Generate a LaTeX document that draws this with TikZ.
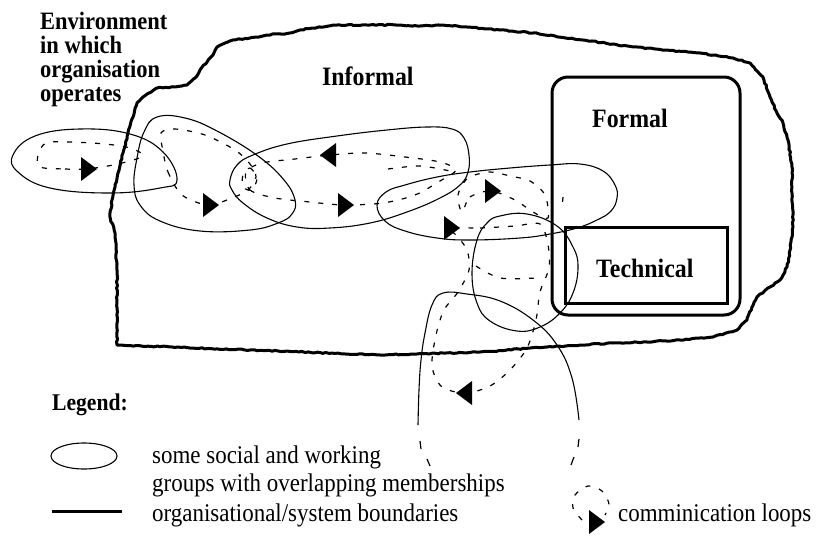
\documentclass[tikz,border=0pt]{standalone}
\usepackage{fontspec}
\setmainfont{Liberation Serif}[FakeStretch=0.9]
\usetikzlibrary{decorations.pathmorphing}
\tikzset{
  tri/.pic={\fill (-6,-12) -- (10,0) -- (-6,12) -- cycle;},
  title/.style={font=\fontsize{26.5}{22}\selectfont\bfseries, inner sep=0pt, anchor=base west},
  envtxt/.style={font=\fontsize{25}{22}\selectfont\bfseries, inner sep=0pt, anchor=base west},
  legtitle/.style={font=\fontsize{24}{24}\selectfont\bfseries, inner sep=0pt, anchor=base west},
  legtxt/.style={font=\fontsize{25.5}{28}\selectfont, inner sep=0pt, anchor=base west},
  bound/.style={line width=3pt, line join=round, line cap=round},
  grp/.style={line width=1.1pt},
  comm/.style={line width=1.2pt, dash pattern=on 5pt off 9pt}
}
\begin{document}
\begin{tikzpicture}[x=1pt,y=-1pt]
\useasboundingbox (0,0) rectangle (831,544);

% informal boundary (blob)
\draw[bound, decorate, decoration={random steps,segment length=3pt,amplitude=0.6pt}]
  plot[sharp cycle] coordinates {
  (117,345) (117,300) (117,270) (115,233) (110,217) (112,200) (115,187) (118,173)
  (123,153) (128,133) (133,117) (137,103) (143,97) (157,88) (175,87) (187,85)
  (195,78) (200,70) (207,62) (213,55) (217,47) (225,43) (233,40) (250,38)
  (267,35) (290,33) (300,30) (313,28) (333,25) (367,25) (400,25) (420,26)
  (443,25) (467,27) (500,30) (533,33) (583,40) (633,47) (667,50) (700,53)
  (733,58) (750,63) (763,77) (770,97) (777,113) (783,123) (788,140) (792,167)
  (792,193) (793,227) (790,250) (787,267) (780,280) (770,287) (757,297) (752,307)
  (747,320) (737,330) (713,337) (680,340) (647,342) (613,343) (580,345) (547,347)
  (480,352) (380,355) (250,350)};

% formal and technical boxes
\node[draw, line width=3pt, rounded corners=16pt, minimum width=188pt, minimum height=238pt, inner sep=0pt] (formalbox) at (646,196) {};
\node[draw, line width=3pt, minimum width=162pt, minimum height=76pt, inner sep=0pt] (techbox) at (646,265) {};

% groups
\draw[grp] plot[smooth cycle, tension=0.7] coordinates {(13,155) (35,136) (80,129) (130,134) (163,152) (177,180) (160,188) (110,193) (50,188) (18,172)};
\draw[grp] plot[smooth cycle, tension=0.7] coordinates {(157,117) (185,118) (217,131) (258,156) (284,180) (295,200) (292,214) (278,223) (250,230) (200,231) (160,221) (140,205) (134,185) (137,158) (144,132)};
\draw[grp] plot[smooth cycle, tension=0.7] coordinates {(230,180) (237,165) (253,155) (287,144) (337,136) (387,130) (427,127) (452,129) (464,138) (469,155) (468,172) (460,185) (440,198) (407,212) (370,223) (330,228) (297,227) (267,218) (243,203) (232,190)};
\draw[grp] plot[smooth cycle, tension=0.7] coordinates {(377,205) (386,192) (405,185) (437,177) (470,172) (510,168) (550,165) (580,164) (603,171) (615,185) (617,198) (611,211) (597,220) (577,228) (550,234) (520,238) (470,240) (437,238) (405,231) (385,221)};
\draw[grp] plot[smooth cycle, tension=0.7] coordinates {(472,273) (477,240) (487,223) (500,216) (527,214) (557,226) (573,247) (578,267) (573,293) (560,313) (540,327) (517,331) (490,321) (477,303)};
\draw[grp] plot[smooth, tension=0.7] coordinates {(418,425) (419,390) (421,360) (425,333) (432,305) (443,293) (467,294) (500,301) (533,320) (557,345) (572,378) (579,420)};

% communication loops
\draw[comm] plot[smooth cycle] coordinates {(40,167) (65,169) (87,169) (118,164) (143,156) (130,148) (105,144) (70,142) (46,143) (38,155)};
\draw[comm] plot[smooth cycle] coordinates {(163,151) (168,172) (182,195) (208,205) (232,198) (248,190) (256,177) (250,164) (235,150) (205,135) (175,129) (161,133)};
\draw[comm] plot[smooth cycle] coordinates {(246,172) (250,190) (275,198) (310,202) (344,205) (383,203) (415,195) (440,181) (456,170) (440,162) (405,157) (365,153) (330,155) (295,159) (262,163)};
\draw[comm] plot[smooth cycle] coordinates {(243,175) (250,168) (257,178) (252,190) (243,187)};
\draw[comm] plot[smooth] coordinates {(388,169) (420,166) (450,171)};
\draw[comm] plot[smooth cycle] coordinates {(462,212) (470,197) (491,191) (515,200) (533,212) (548,218) (545,195) (530,181) (510,176) (490,172) (468,178) (458,195)};
\draw[comm] plot[smooth cycle] coordinates {(450,228) (480,228) (515,226) (540,224) (548,245) (549,268) (540,292) (536,320) (527,348) (510,370) (490,386) (466,393) (442,387) (432,366) (436,335) (444,310) (458,292) (469,270) (467,250) (457,236)};
\draw[comm] plot[smooth] coordinates {(476,266) (500,278) (536,278)};
\draw[comm] (563,197) -- (562,208);
\draw[line width=1.2pt] (420,441) -- (421,449) (427,459) -- (430,466) (579,439) -- (578,447) (574,457) -- (571,465);

% arrow heads
\pic at (87,169) {tri};
\pic at (209,205) {tri};
\pic[rotate=180] at (330,155) {tri};
\pic at (344,205) {tri};
\pic at (491,191) {tri};
\pic at (450,228) {tri};
\pic[rotate=180] at (466,393) {tri};

% labels
\node[envtxt] (env1) at (40,29) {Environment};
\node[envtxt] (env2) at (40,53) {in which};
\node[envtxt] (env3) at (40,77) {organisation};
\node[envtxt] (env4) at (40,101) {operates};
\node[title] (informal) at (322,85) {Informal};
\node[title] (formal) at (592,127) {Formal};
\node[title] (technical) at (596,277) {Technical};

% legend
\node[legtitle] (legend) at (52,410) {Legend:};
\draw[grp] (84,456) ellipse [x radius=33, y radius=13];
\node[legtxt] (leg1) at (152,463) {some social and working};
\node[legtxt] (leg2) at (152,491) {groups with overlapping memberships};
\coordinate (lb1) at (52,511);
\coordinate (lb2) at (122,511);
\draw[line width=3pt] (lb1) -- (lb2);
\node[legtxt] (leg3) at (152,521) {organisational/system boundaries};
\draw[comm] plot[smooth] coordinates {(582,520) (573,508) (575,495) (588,486) (602,491) (609,504) (605,515)};
\pic at (595,522) {tri};
\node[legtxt] (leg4) at (618,521) {comminication loops};
\end{tikzpicture}
\end{document}
